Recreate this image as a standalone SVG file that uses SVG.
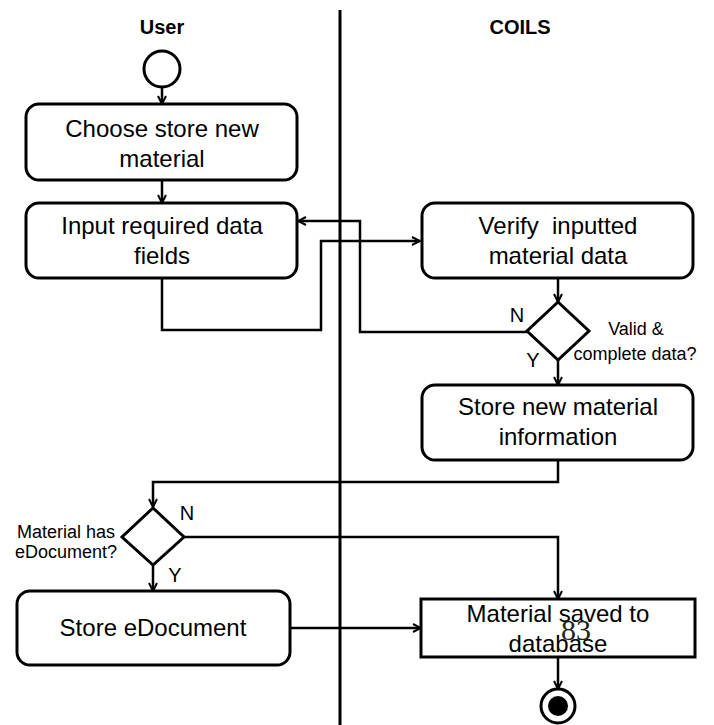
<svg xmlns="http://www.w3.org/2000/svg" width="714" height="725" viewBox="0 0 714 725">
<defs>
<style>
.box{fill:#fff;stroke:#000;stroke-width:3}
.lane{stroke:#000;stroke-width:3}
.conn{fill:none;stroke:#000;stroke-width:2.5;marker-end:url(#arr)}
.t{font-family:"Liberation Sans",Arial,sans-serif;font-size:24px;text-anchor:middle;fill:#000}
.s{font-family:"Liberation Sans",Arial,sans-serif;font-size:18px;text-anchor:middle;fill:#000}
.h{font-family:"Liberation Sans",Arial,sans-serif;font-size:20px;font-weight:bold;text-anchor:middle;fill:#000}
</style>
<marker id="arr" viewBox="0 0 10 10" refX="9" refY="5" markerWidth="10" markerHeight="10" markerUnits="userSpaceOnUse" orient="auto">
<path d="M1,1 L9,5 L1,9" fill="none" stroke="#000" stroke-width="2"/>
</marker>
</defs>
<rect width="714" height="725" fill="#fff"/>
<g id="lanes">
<line class="lane" x1="340" y1="10" x2="340" y2="725"/>
<text class="h" x="162" y="34">User</text>
<text class="h" x="520" y="34">COILS</text>
</g>
<g id="connectors">
<path class="conn" d="M162,88 L162,104"/>
<path class="conn" d="M162,180 L162,203"/>
<path class="conn" d="M162,278 L162,330 L321,330 L321,241 L420,241"/>
<path class="conn" d="M527,332 L360,332 L360,221 L298,221"/>
<path class="conn" d="M558,278 L558,302"/>
<path class="conn" d="M558,360 L558,385"/>
<path class="conn" d="M558,460 L558,482 L153,482 L153,507"/>
<path class="conn" d="M184,537 L558,537 L558,599"/>
<path class="conn" d="M153,565 L153,591"/>
<path class="conn" d="M290,628 L421,628"/>
<path class="conn" d="M558,657 L558,689"/>
</g>
<g id="start"><circle cx="162" cy="69" r="18" fill="#fff" stroke="#000" stroke-width="3"/></g>
<g id="choose">
<rect class="box" x="26" y="104" width="271" height="76" rx="13"/>
<text class="t" x="162" y="137">Choose store new</text>
<text class="t" x="162" y="167">material</text>
</g>
<g id="input">
<rect class="box" x="26" y="203" width="271" height="75" rx="13"/>
<text class="t" x="162" y="234">Input required data</text>
<text class="t" x="162" y="264">fields</text>
</g>
<g id="verify">
<rect class="box" x="422" y="203" width="271" height="75" rx="13"/>
<text class="t" x="558" y="234" xml:space="preserve">Verify  inputted</text>
<text class="t" x="558" y="264">material data</text>
</g>
<g id="valid">
<polygon points="558,302 589,331 558,360 527,331" fill="#fff" stroke="#000" stroke-width="3"/>
<text class="s" x="636" y="335">Valid &amp;</text>
<text class="s" x="635" y="360">complete data?</text>
<text class="s" x="517" y="322" style="font-size:20px">N</text>
<text class="s" x="533" y="367" style="font-size:20px">Y</text>
</g>
<g id="storeinfo">
<rect class="box" x="422" y="385" width="271" height="75" rx="13"/>
<text class="t" x="558" y="415">Store new material</text>
<text class="t" x="558" y="445">information</text>
</g>
<g id="hasdoc">
<polygon points="153,508 184,537 153,565 122,537" fill="#fff" stroke="#000" stroke-width="3"/>
<text class="s" x="66" y="538">Material has</text>
<text class="s" x="66" y="558">eDocument?</text>
<text class="s" x="187" y="520" style="font-size:20px">N</text>
<text class="s" x="175" y="582" style="font-size:20px">Y</text>
</g>
<g id="storedoc">
<rect class="box" x="17" y="591" width="273" height="74" rx="13"/>
<text class="t" x="153" y="636">Store eDocument</text>
</g>
<g id="saved">
<rect class="box" x="421" y="599" width="274" height="58"/>
<text class="t" x="558" y="622">Material saved to</text>
<text class="t" x="558" y="652">database</text>
</g>
<text x="576" y="640" style="font-family:'Liberation Serif','Times New Roman',serif;font-size:30px;text-anchor:middle;fill:#222">83</text>
<g id="end">
<circle cx="558" cy="706" r="17" fill="#fff" stroke="#000" stroke-width="3"/>
<circle cx="558" cy="706" r="10" fill="#000"/>
</g>
</svg>
